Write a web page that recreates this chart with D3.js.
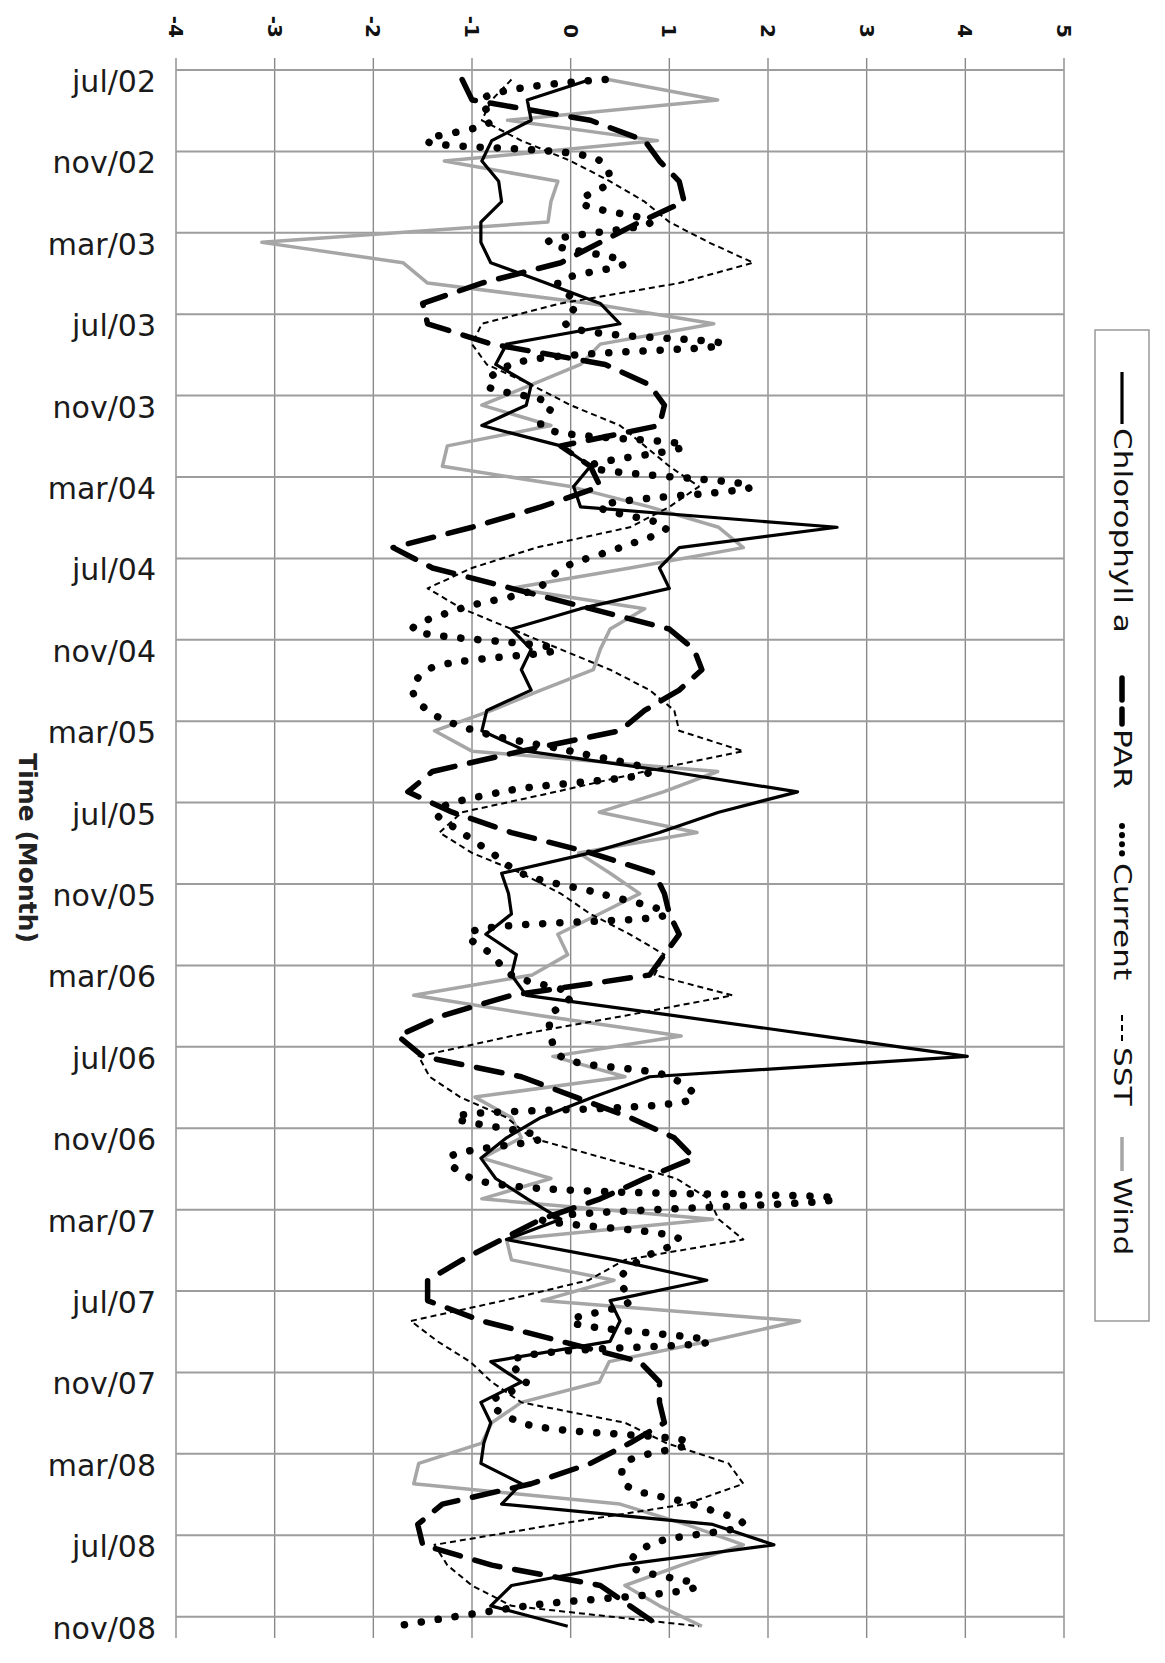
<!DOCTYPE html>
<html><head><meta charset="utf-8">
<script src="https://cdn.jsdelivr.net/npm/d3@7"></script>
<style>html,body{margin:0;padding:0;background:#fff;}svg{display:block;font-family:"DejaVu Sans",Verdana,sans-serif;}</style>
</head><body>
<svg id="chart" width="1165" height="1663"></svg>
<script>
const monthLabels = ["jul/02","nov/02","mar/03","jul/03","nov/03","mar/04","jul/04","nov/04","mar/05","jul/05","nov/05","mar/06","jul/06","nov/06","mar/07","jul/07","nov/07","mar/08","jul/08","nov/08"];
const valueTicks = [-4,-3,-2,-1,0,1,2,3,4,5];
const seriesNames = ["Chlorophyll a","PAR","Current","SST","Wind"];

const chlorophyll = [0.2,-0.44,-0.4,-0.8,-0.9,-0.73,-0.7,-0.91,-0.91,-0.81,-0.25,0.3,0.5,-0.65,-0.76,-0.4,-0.45,-0.9,-0.1,0.2,0.03,0.1,2.7,1.1,0.9,1.0,0.1,-0.6,-0.4,-0.5,-0.4,-0.85,-0.9,-0.45,1.0,2.3,1.5,0.9,0.2,-0.7,-0.63,-0.6,-0.86,-0.55,-0.6,-0.45,1.05,2.55,4.02,0.8,0.23,-0.3,-0.65,-0.91,-0.76,-0.44,-0.1,-0.65,0.45,1.38,0.4,0.5,0.4,-0.81,-0.5,-0.91,-0.81,-0.88,-0.91,-0.5,-0.7,1.44,2.06,0.5,-0.6,-0.81,-0.03];
const par = [-1.1,-1.0,0.2,0.75,0.9,1.1,1.15,0.7,0.3,-0.1,-0.9,-1.5,-1.45,-0.8,0.35,0.8,0.95,0.9,-0.1,0.2,0.3,-0.3,-1.0,-1.8,-1.4,-0.6,0.2,1.0,1.25,1.33,1.1,0.75,0.5,-0.5,-1.4,-1.65,-1.2,-0.6,0.2,0.85,0.95,1.0,1.1,0.95,0.8,-0.6,-1.3,-1.75,-1.5,-0.5,0.05,0.6,1.05,1.25,0.75,0.3,-0.3,-0.7,-1.1,-1.45,-1.45,-0.9,-0.1,0.7,0.9,0.9,0.95,0.6,0.2,-0.4,-1.3,-1.55,-1.5,-0.8,0.3,0.6,0.9];
const current = [0.35,-0.9,-0.8,-1.46,0.3,0.39,0.1,0.81,-0.23,0.55,-0.13,0.05,-0.05,1.54,-0.6,-0.85,-0.2,-0.3,1.15,0.2,1.83,0.3,0.97,0.5,-0.08,-0.34,-1.12,-1.6,-0.15,-1.45,-1.6,-1.45,-0.97,0.0,0.8,-0.7,-1.36,-1.1,-0.8,-0.5,0.3,0.97,-1.04,-0.8,-0.6,0.0,-0.2,-0.2,-0.1,1.0,1.25,-1.17,-0.3,-1.23,-1.0,2.69,-0.3,1.1,0.7,0.5,0.6,0.0,1.4,-0.6,-0.45,-0.8,-0.5,1.2,0.55,0.55,1.23,1.75,0.8,0.6,1.28,-0.44,-1.78];
const sst = [-0.6,-0.8,-0.9,-0.5,0.0,0.4,0.75,1.0,1.4,1.85,1.1,-0.1,-0.9,-1.0,-0.85,-0.4,0.0,0.5,0.75,1.0,1.3,1.0,0.6,-0.35,-1.0,-1.45,-1.1,-0.6,-0.1,0.4,0.8,1.05,1.1,1.75,0.75,-0.15,-1.1,-1.33,-1.0,-0.5,-0.1,0.2,0.6,0.95,0.85,1.64,0.55,-0.6,-1.54,-1.43,-1.12,-0.65,-0.4,0.34,1.07,1.4,1.5,1.75,0.55,0.18,-0.68,-1.62,-1.35,-1.02,-0.8,-0.5,0.55,0.97,1.6,1.75,1.17,-0.15,-1.38,-1.25,-1.0,-0.6,1.3];
const wind = [0.38,1.49,-0.64,0.88,-1.28,-0.13,-0.2,-0.23,-3.13,-1.7,-1.45,0.2,1.45,0.3,0.1,-0.4,-0.9,-0.2,-1.25,-1.3,0.0,0.8,1.5,1.75,0.6,-0.6,0.75,0.4,0.3,0.23,-0.3,-0.8,-1.38,-1.0,1.49,0.94,0.29,1.28,0.08,0.4,0.7,0.29,-0.13,-0.03,-0.39,-1.59,-0.3,1.12,-0.18,0.55,-0.97,-0.6,-0.5,-0.9,-0.2,-0.9,1.44,-0.65,-0.6,0.44,-0.29,2.32,1.4,0.39,0.29,-0.5,-0.8,-0.9,-1.54,-1.59,0.5,1.17,1.75,1.12,0.55,0.9,1.33];

const svg = d3.select("#chart");
const x = d3.scaleLinear().domain([-4,5]).range([176,1064]);
const y = d3.scaleLinear().domain([0,77]).range([70,1637]);
const plotTop = 58, plotBottom = 1638;

svg.append("g").selectAll("line").data(valueTicks).join("line")
  .attr("x1",d=>x(d)).attr("x2",d=>x(d)).attr("y1",plotTop).attr("y2",plotBottom)
  .attr("stroke","#8a8a8a").attr("stroke-width",1.4);
svg.append("g").selectAll("line").data(monthLabels).join("line")
  .attr("x1",x(-4)).attr("x2",x(5)).attr("y1",(d,i)=>y(i*4)).attr("y2",(d,i)=>y(i*4))
  .attr("stroke","#9d9d9d").attr("stroke-width",2);

svg.append("g").selectAll("text").data(valueTicks).join("text")
  .attr("transform",d=>`translate(${x(d)},38) rotate(90)`)
  .attr("text-anchor","end").attr("dominant-baseline","central")
  .attr("font-size",20).attr("font-weight","600").attr("fill","#111").text(d=>d);

svg.append("g").selectAll("text").data(monthLabels).join("text")
  .attr("x",156).attr("y",(d,i)=>y(i*4)+22)
  .attr("text-anchor","end").attr("font-size",30).attr("fill","#1a1a1a").text(d=>d);

svg.append("text").attr("transform","translate(27,848) rotate(90)")
  .attr("text-anchor","middle").attr("dominant-baseline","central")
  .attr("font-size",25).attr("font-weight","bold").attr("fill","#222").text("Time (Month)");

const styles = [
  {data:chlorophyll, stroke:"#000", width:3.2, dash:null, cap:"butt", curve:d3.curveLinear},
  {data:par, stroke:"#000", width:5.5, dash:"26 15", cap:"round", curve:d3.curveLinear},
  {data:current, stroke:"#000", width:7.5, dash:"0.1 17", cap:"round", curve:d3.curveCatmullRom},
  {data:sst, stroke:"#000", width:2, dash:"6 4", cap:"butt", curve:d3.curveLinear},
  {data:wind, stroke:"#a6a6a6", width:3.5, dash:null, cap:"butt", curve:d3.curveLinear}
];
[4,3,2,1,0].forEach(k=>{
  const s = styles[k];
  const line = d3.line().x(d=>x(d)).y((d,i)=>y(i+0.47)).curve(s.curve);
  svg.append("path").attr("d",line(s.data)).attr("fill","none")
    .attr("stroke",s.stroke).attr("stroke-width",s.width)
    .attr("stroke-dasharray",s.dash).attr("stroke-linecap",s.cap).attr("stroke-linejoin","round");
});

const lg = svg.append("g");
lg.append("rect").attr("x",1095).attr("y",330).attr("width",54).attr("height",991)
  .attr("fill","#fff").attr("stroke","#999").attr("stroke-width",1.5);
const legendItems = [
  {k:0, y0:372, y1:424, ty:428, dash:null},
  {k:1, y0:678, y1:724, ty:729, dash:"22 9"},
  {k:2, y0:826, y1:859, ty:863, dash:"0.1 9"},
  {k:3, y0:1015, y1:1043, ty:1047, dash:"6 4"},
  {k:4, y0:1137, y1:1171, ty:1177, dash:null}
];
legendItems.forEach(it=>{
  const s = styles[it.k];
  lg.append("line").attr("x1",1122).attr("x2",1122).attr("y1",it.y0).attr("y2",it.y1)
    .attr("stroke",s.stroke).attr("stroke-width",Math.min(s.width,6))
    .attr("stroke-dasharray",it.dash).attr("stroke-linecap",s.cap);
  lg.append("text").attr("transform",`translate(1122,${it.ty}) rotate(90) scale(1.3,1)`)
    .attr("text-anchor","start").attr("dominant-baseline","central")
    .attr("font-size",24).attr("fill","#111").text(seriesNames[it.k]);
});
</script>
</body></html>
